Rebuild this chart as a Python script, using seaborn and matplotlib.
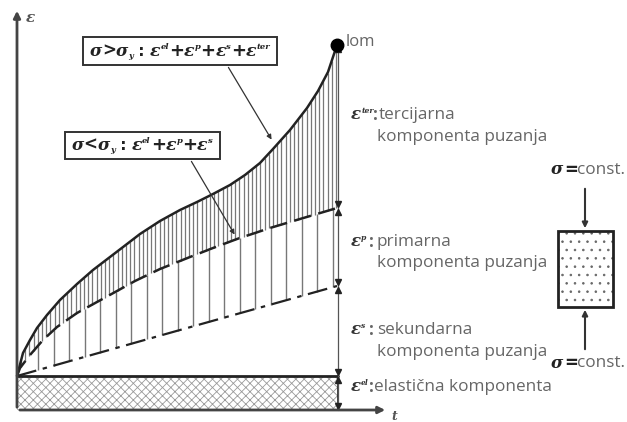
import numpy as np
import matplotlib
matplotlib.use("Agg")
import matplotlib.pyplot as plt
from matplotlib.patches import Rectangle
import seaborn as sns

sns.set_theme(style="white")
plt.rcParams["font.family"] = ["Open Sans", "DejaVu Sans"]
plt.rcParams["hatch.linewidth"] = 0.6

# ---- data (schematic creep curves: time t vs strain eps) ----
t_total = [17, 23, 30, 37, 47, 60, 77, 93, 110, 127, 140, 160, 180, 197, 213, 230,
           245, 260, 273, 290, 307, 318, 328, 337]
eps_total = [46, 69, 82, 94, 107, 122, 138, 152, 165, 178, 188, 201, 212, 220, 228,
             237, 247, 259, 273, 292, 314, 331, 350, 377]          # sigma > sigma_y
t_prim = [17, 20, 30, 43, 57, 77, 97, 117, 135, 160, 190, 213, 237, 270, 300, 337]
eps_prim = [46, 54, 67, 82, 95, 109, 120, 131, 141, 153, 165, 174, 183, 194, 203, 214]
t_sec = [17, 180, 337]
eps_sec = [46, 92, 136]
eps_el = 46
t_origin, eps_origin = 17, 12
t_end = 338

comp_sup = ["ter", "p", "s", "el"]
comp_first = ["tercijarna", "primarna", "sekundarna", "elastična komponenta"]
comp_second = ["komponenta puzanja", "komponenta puzanja", "komponenta puzanja", None]

fig = plt.figure(figsize=(6.27, 4.22), dpi=100)
ax = fig.add_axes([0, 0, 1, 1])
ax.set_xlim(0, 627)
ax.set_ylim(0, 422)
ax.axis("off")
renderer = fig.canvas.get_renderer()

dark = "#222222"
grey = "#666666"
MATH = dict(family="DejaVu Serif", style="italic", weight="bold")
SYM = dict(family="DejaVu Sans", weight="bold")


def rich(x, y, pieces, ha="left"):
    """pieces: (text, fontsize, dy, fontdict, color); placed side by side on baseline y."""
    objs = []
    cx = x
    for s, fs, dy, fd, col in pieces:
        t = ax.text(cx, y + dy, s, fontsize=fs, va="baseline", ha="left", color=col,
                    zorder=4, **fd)
        w = t.get_window_extent(renderer).width
        objs.append(t)
        cx += w
    total = cx - x
    if ha == "center":
        for t in objs:
            t.set_x(t.get_position()[0] - total / 2)
    return total


# elastic band
ax.add_patch(Rectangle((t_origin, eps_origin), t_end - t_origin, eps_el - eps_origin,
                       facecolor="white", edgecolor="#999999", hatch="xxxx", lw=0))
ax.plot([t_origin, t_end], [eps_el, eps_el], color=dark, lw=2)
ax.plot([t_end, t_end], [eps_origin, eps_el], color=dark, lw=1.2)

# vertical hatching
xs_dense = np.arange(21, 337, 4.2)
up = np.interp(xs_dense, t_total, eps_total)
mid = np.interp(xs_dense, t_prim, eps_prim)
ax.vlines(xs_dense, mid, up, color="#777777", lw=0.9)
xs_sparse = np.arange(38, 337, 15.5)
lo = np.interp(xs_sparse, t_sec, eps_sec)
mid2 = np.interp(xs_sparse, t_prim, eps_prim)
ax.vlines(xs_sparse, lo, mid2, color="#777777", lw=1.0)

# curves
sns.lineplot(x=t_total, y=eps_total, ax=ax, color=dark, lw=1.8, estimator=None, sort=False)
sns.lineplot(x=t_prim, y=eps_prim, ax=ax, color=dark, lw=1.8, estimator=None, sort=False,
             linestyle=(0, (7, 3)))
sns.lineplot(x=t_sec, y=eps_sec, ax=ax, color=dark, lw=1.6, estimator=None, sort=False,
             linestyle=(0, (9, 3, 2, 3)))

# failure point
ax.plot([t_total[-1]], [eps_total[-1]], "o", color="black", ms=9, zorder=5)
ax.text(346, 380, "lom", fontsize=12, color=grey, va="center", ha="left")

# axes arrows
ax.annotate("", xy=(t_origin, 414), xytext=(t_origin, eps_origin),
            arrowprops=dict(arrowstyle="-|>", color="#444444", lw=2, mutation_scale=10))
ax.annotate("", xy=(388, eps_origin), xytext=(t_origin, eps_origin),
            arrowprops=dict(arrowstyle="-|>", color="#444444", lw=2, mutation_scale=10))
ax.text(26, 404, "ε", fontsize=11, color="#555555", va="center", **MATH)
ax.text(391, 6, "t", fontsize=9, color="#555555", va="center", **MATH)

# dimension line
ax.plot([t_end, t_end], [eps_origin, eps_total[-1]], color="#555555", lw=0.9)
bounds = [eps_total[-1], eps_prim[-1], eps_sec[-1], eps_el, eps_origin]
for b in bounds[1:]:
    ax.plot([t_end], [b + 4], marker="v", color=dark, ms=4)
for b in bounds[:-1]:
    ax.plot([t_end], [b - 4], marker="^", color=dark, ms=4)

# component labels
label_y = [(307, 285), (180, 159), (92, 70), (35, None)]
for sup, w1, w2, (y1, y2) in zip(comp_sup, comp_first, comp_second, label_y):
    wlab = rich(351, y1 - 4, [("ε", 12, 0, MATH, "#333333"), (sup, 5.5, 6, MATH, "#333333")])
    colon_x = max(369, 351 + wlab)
    ax.text(colon_x, y1, ":", fontsize=12.3, color=grey, va="center", ha="left",
            fontweight="bold")
    ax.text(max(377, colon_x + 5) if w2 else colon_x + 5, y1, w1, fontsize=12.3,
            color=grey, va="center", ha="left")
    if w2:
        ax.text(377, y2, w2, fontsize=12.3, color=grey, va="center", ha="left")

# formula boxes
def formula(cx, base, comps, rel):
    pieces = [("σ", 12, 0, MATH, dark), (rel, 12, 0, SYM, dark), ("σ", 12, 0, MATH, dark),
              ("y", 6, -2, MATH, dark), (" : ", 11, 0, SYM, dark)]
    for i, c in enumerate(comps):
        if i:
            pieces.append(("+", 13, 0, SYM, dark))
        pieces.append(("ε", 12.5, 0, MATH, dark))
        pieces.append((c, 6, 7, MATH, dark))
    return rich(cx, base, pieces, ha="center")

ax.add_patch(Rectangle((83, 357), 194, 28, facecolor="white", edgecolor="#333333", lw=1.4,
                       zorder=3))
ax.add_patch(Rectangle((65, 263), 155, 27, facecolor="white", edgecolor="#333333", lw=1.4,
                       zorder=3))
formula(180, 366, ["el", "p", "s", "ter"], ">")
formula(142, 272, ["el", "p", "s"], "<")
ax.annotate("", xy=(273, 280), xytext=(227, 357),
            arrowprops=dict(arrowstyle="-|>", color="#333333", lw=0.9, mutation_scale=7))
ax.annotate("", xy=(236, 185), xytext=(190, 263),
            arrowprops=dict(arrowstyle="-|>", color="#333333", lw=0.9, mutation_scale=7))

# specimen
ax.add_patch(Rectangle((558, 115), 55, 76, facecolor="white", edgecolor="#666666",
                       lw=0, hatch=".."))
ax.add_patch(Rectangle((558, 115), 55, 76, facecolor="none", edgecolor=dark, lw=2))
ax.annotate("", xy=(585, 191), xytext=(585, 236),
            arrowprops=dict(arrowstyle="-|>", color="#333333", lw=1.5, mutation_scale=8))
ax.annotate("", xy=(585, 115), xytext=(585, 70),
            arrowprops=dict(arrowstyle="-|>", color="#333333", lw=1.5, mutation_scale=8))
for yy in (252, 59):
    ax.text(551, yy, "σ", fontsize=12, color=dark, ha="left", va="center", **MATH)
    ax.text(564, yy, "=", fontsize=12, color=dark, ha="left", va="center", **SYM)
    ax.text(577, yy, "const.", fontsize=12.3, color=grey, ha="left", va="center")

fig.savefig("out.png", dpi=100)
